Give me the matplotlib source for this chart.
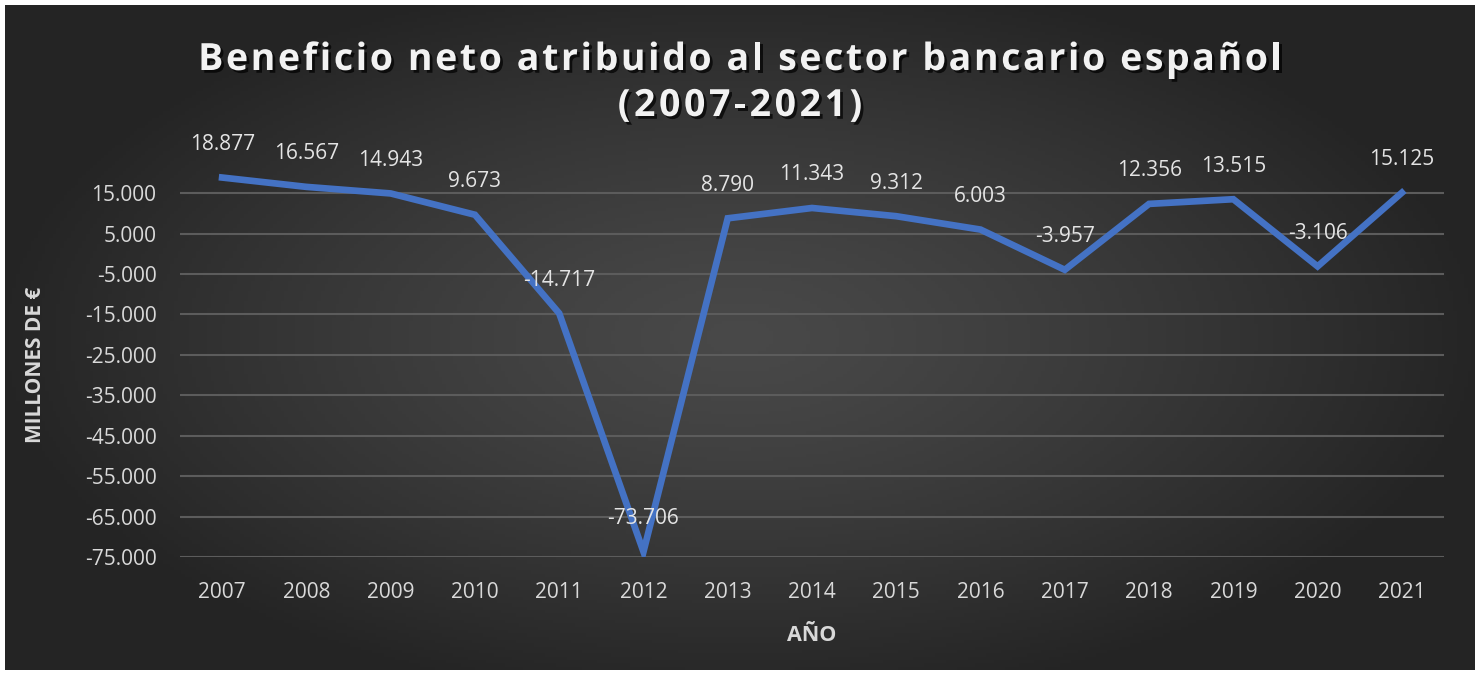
import numpy as np
import matplotlib
matplotlib.use('Agg')
import matplotlib.pyplot as plt
import matplotlib.patheffects as pe

# datos: beneficio neto (millones de euros)
years = ['2007', '2008', '2009', '2010', '2011', '2012', '2013', '2014',
         '2015', '2016', '2017', '2018', '2019', '2020', '2021']
beneficio = [18877, 16567, 14943, 9673, -14717, -73706, 8790, 11343,
             9312, 6003, -3957, 12356, 13515, -3106, 15125]
y_ticks = list(range(-75000, 15001, 10000))

plt.rcParams['font.family'] = ['Open Sans', 'DejaVu Sans']

W, H = 1479, 675
fig = plt.figure(figsize=(W / 100, H / 100), dpi=100)
fig.patch.set_facecolor('white')

# fondo oscuro con degradado radial
bg = fig.add_axes([5 / W, 5 / H, 1470 / W, 665 / H])
gx, gy = np.meshgrid(np.linspace(-1, 1, 400), np.linspace(-1, 1, 200))
r = np.sqrt((gx / 1.0) ** 2 + (gy / 1.1) ** 2)
r = np.clip(r, 0, 1)
c0, c1 = 0.285, 0.145
img = c0 - (c0 - c1) * r ** 1.3
bg.imshow(np.dstack([img, img, img]), aspect='auto', extent=[0, 1, 0, 1])
bg.set_axis_off()

ax = fig.add_axes([180 / W, 1 - 557 / H, (1444 - 180) / W, (557 - 173) / H])
ax.patch.set_alpha(0)
x = np.arange(len(years))
ax.plot(x, beneficio, color='#4472C4', lw=4.8, solid_joinstyle='miter', zorder=3)

for xi, v in zip(x, beneficio):
    lbl = f'{v:,}'.replace(',', '.')
    ax.annotate(lbl, (xi, v), xytext=(0, 33), textcoords='offset pixels',
                ha='center', va='center', color='#e4e4e4', fontsize=15, zorder=4)

ax.set_xlim(-0.5, len(years) - 0.5)
ax.set_ylim(-75000, 20000)
ax.set_yticks(y_ticks)
ax.set_yticklabels([f'{t:,}'.replace(',', '.') for t in y_ticks])
ax.set_xticks(x)
ax.set_xticklabels(years)
ax.grid(axis='y', color='#5c5c5c', lw=1.5, zorder=1)
ax.tick_params(length=0, colors='#d9d9d9', labelsize=15)
ax.tick_params(axis='y', pad=17)
ax.tick_params(axis='x', pad=18)
for s in ax.spines.values():
    s.set_visible(False)

ax.set_xlabel('AÑO', color='#d9d9d9', fontsize=15.5, fontweight='bold', labelpad=16)
ax.set_ylabel('MILLONES DE €', color='#d9d9d9', fontsize=15, fontweight='bold', labelpad=28)

# titulo con espaciado entre letras
shadow = [pe.withSimplePatchShadow(offset=(2, -2), shadow_rgbFace='black', alpha=0.7)]
renderer = fig.canvas.get_renderer()


def spaced_title(txt, yc, size, track):
    parts = []
    widths = []
    for ch in txt:
        t = fig.text(0, 0, ch if ch != ' ' else '\u00a0', fontsize=size, fontweight='bold',
                     color='#f2f2f2', va='center', ha='left', path_effects=shadow)
        parts.append(t)
        if ch == ' ':
            widths.append(size * 100 / 72 * 0.26)
        else:
            widths.append(t.get_window_extent(renderer).width)
    total = sum(widths) + track * (len(txt) - 1)
    xp = 740 - total / 2
    for t, w in zip(parts, widths):
        t.set_position((xp / W, 1 - yc / H))
        xp += w + track


spaced_title('Beneficio neto atribuido al sector bancario español', 60, 27, 2.6)
spaced_title('(2007-2021)', 106, 27, 3.5)

fig.savefig('out.png', dpi=100, facecolor='white')
